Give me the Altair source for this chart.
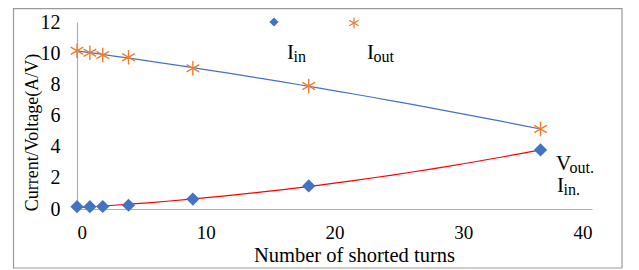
import altair as alt
import pandas as pd

# ---- data ----
turns = [0, 1, 2, 4, 9, 18, 36]
i_in = [0.15, 0.15, 0.16, 0.24, 0.64, 1.48, 3.79]
i_out = [10.16, 10.03, 9.88, 9.74, 9.03, 7.89, 5.13]

x_ticks = [0, 10, 20, 30, 40]
y_ticks = [0, 2, 4, 6, 8, 10, 12]

x_title = "Number of shorted turns"
y_title = "Current/Voltage(A/V)"
legend_main = ["I", "I"]
legend_sub = ["in", "out"]
note_main = ["V", "I"]
note_sub = ["out.", "in."]

df = pd.DataFrame({"turns": turns, "i_in": i_in, "i_out": i_out})

FONT = "Liberation Serif"
W, H = 515, 187
BLUE = "#4472C4"
ORANGE = "#ED7D31"
RED = "#FF0000"
ASTER = "M0,-1L0,1M-0.87,-0.5L0.87,0.5M-0.87,0.5L0.87,-0.5"

xs = alt.Scale(domain=[0, 40], nice=False)
ys = alt.Scale(domain=[0, 12], nice=False)

x_axis = alt.Axis(values=x_ticks, title=x_title, labelPadding=14, labelFontSize=19,
                  titleX=277, titleY=52, titleAlign="center",
                  titleBaseline="alphabetic", titleFontSize=20.5)
y_axis = alt.Axis(values=y_ticks, title=y_title, labelPadding=17,
                  titleX=-40, titleY=110, titleAlign="center",
                  titleAngle=-90, titleBaseline="alphabetic", titleFontSize=18)


def X():
    return alt.X("turns:Q", scale=xs, axis=x_axis, title=x_title)


def Y(field):
    return alt.Y(field + ":Q", scale=ys, axis=y_axis, title=y_title)


base = alt.Chart(df)

pts_in = base.mark_point(shape="diamond", filled=True, color=BLUE, size=175, opacity=1).encode(
    x=X(), y=Y("i_in"))
pts_out = base.mark_point(shape=ASTER, filled=False, color=ORANGE, size=210,
                          strokeWidth=1.4, opacity=1).encode(x=X(), y=Y("i_out"))

fit_out = base.transform_regression("turns", "i_out", method="poly", order=2).mark_line(
    color=BLUE, strokeWidth=1.2).encode(x=X(), y=Y("i_out"))
fit_in = base.transform_regression("turns", "i_in", method="poly", order=2).mark_line(
    color=RED, strokeWidth=1.2).encode(x=X(), y=Y("i_in"))

one = alt.Data(values=[{}])


def txt(s, x, y, size):
    return alt.Chart(one).mark_text(text=s, font=FONT, fontSize=size, align="left",
                                    baseline="alphabetic", color="black").encode(
        x=alt.value(x), y=alt.value(y))


leg_diamond = alt.Chart(one).mark_point(shape="diamond", filled=True, color=BLUE,
                                        size=85, opacity=1).encode(
    x=alt.value(197), y=alt.value(0))
leg_aster = alt.Chart(one).mark_point(shape=ASTER, filled=False, color=ORANGE,
                                      size=121, strokeWidth=1.2, opacity=1).encode(
    x=alt.value(277), y=alt.value(1))

texts = [
    txt(legend_main[0], 210, 37, 21), txt(legend_sub[0], 216.5, 40, 16),
    txt(legend_main[1], 290, 37, 21), txt(legend_sub[1], 296.5, 40, 16),
    txt(note_main[0], 479, 148, 21), txt(note_sub[0], 492.5, 151, 16),
    txt(note_main[1], 480, 170, 21), txt(note_sub[1], 486.5, 173, 16),
]

frame = alt.Chart(one).mark_rect(fill="transparent", stroke="#9a9a9a", strokeWidth=1.2).encode(
    x=alt.value(-63.5), x2=alt.value(545), y=alt.value(-13.4), y2=alt.value(246))

chart = alt.layer(
    frame, fit_out, fit_in, pts_in, pts_out, leg_diamond, leg_aster, *texts
).properties(
    width=W, height=H,
    autosize=alt.AutoSizeParams(type="none"),
    padding={"left": 69, "top": 14, "right": 31, "bottom": 60},
).configure_view(stroke="transparent").configure_axis(
    labelFont=FONT, labelFontSize=20, labelColor="black",
    titleFont=FONT, titleFontSize=20, titleColor="black", titleFontWeight="normal",
    domainColor="#b0b0b0", domainWidth=1.2, ticks=False, grid=False,
)

chart.save("out.html", embed_options={"renderer": "svg", "actions": False})
